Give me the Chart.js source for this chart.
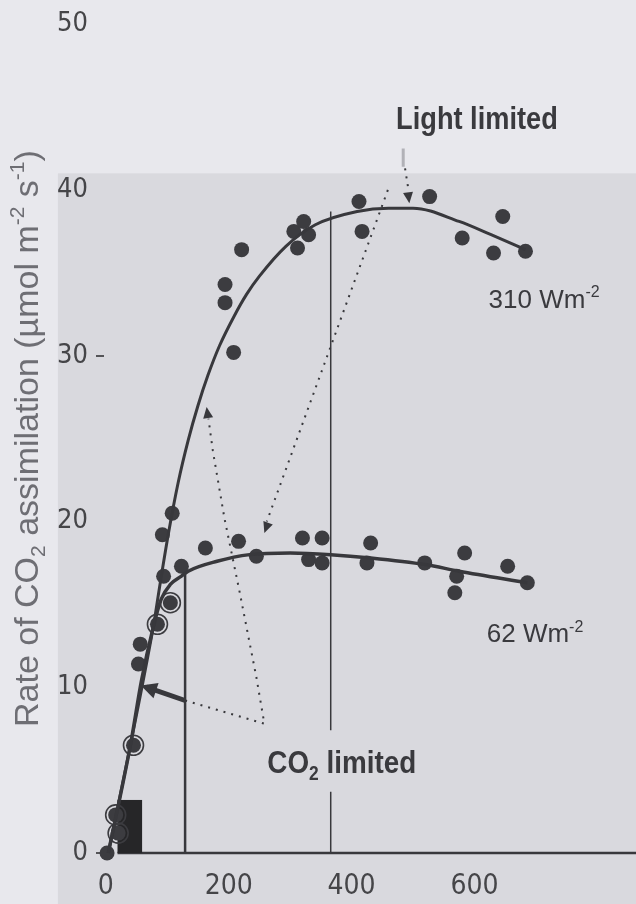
<!DOCTYPE html>
<html>
<head>
<meta charset="utf-8">
<script src="https://cdn.jsdelivr.net/npm/chart.js@4.4.1/dist/chart.umd.min.js"></script>
<style>
html, body { margin: 0; padding: 0; background: #e7e7ec; }
</style>
</head>
<body>
<canvas id="chart" width="636" height="904"></canvas>
<script>
// CO2 response curves of assimilation at two irradiances

const xTicks = [0, 200, 400, 600];
const yTicks = [0, 10, 20, 30, 40, 50];

// measured points at 310 W m-2
const co2_310  = [92, 108, 194, 194, 208, 221, 306, 312, 322, 330, 412, 417, 527, 580, 631, 646, 683];
const rate_310 = [19.2, 20.5, 34.3, 33.2, 30.2, 36.4, 37.5, 36.5, 38.1, 37.3, 39.3, 37.5, 39.6, 37.1, 36.2, 38.4, 36.3];

// measured points at 62 W m-2
const co2_62  = [123, 162, 216, 245, 320, 330, 352, 352, 425, 431, 519, 568, 571, 584, 654, 686];
const rate_62 = [17.3, 18.4, 18.8, 17.9, 19.0, 17.7, 19.0, 17.5, 17.5, 18.7, 17.5, 15.7, 16.7, 18.1, 17.3, 16.3];

// initial slope, shared by both
const co2_low  = [2, 16, 20, 45, 53, 56, 84, 94, 105];
const rate_low = [0, 2.3, 1.2, 6.5, 11.4, 12.6, 13.8, 16.7, 15.1];

// points drawn with a ring round them
const co2_ring  = [16, 20, 45, 84, 105];
const rate_ring = [2.3, 1.2, 6.5, 13.8, 15.1];

// fitted curves
const fit310_x = [4, 40, 77, 81, 86, 102, 118, 134, 150, 166, 185, 209, 229, 250, 293, 341, 409, 460, 500, 575, 627, 683];
const fit310_y = [0, 6.5, 13.6, 14.5, 15.7, 19.3, 22.4, 24.9, 27.0, 28.8, 30.6, 32.4, 33.7, 34.8, 36.6, 37.9, 38.7, 38.9, 38.9, 38.1, 37.3, 36.4];
const fit62_x = [4, 40, 58, 77, 90, 105, 123, 134, 181, 234, 300, 366, 431, 520, 575, 686];
const fit62_y = [0, 6.5, 10.4, 13.6, 15.3, 16.2, 16.7, 17.0, 17.6, 18.0, 18.1, 18.0, 17.8, 17.4, 17.0, 16.3];

const pairs = (xs, ys) => xs.map((v, i) => ({ x: v, y: ys[i] }));

const TICKFONT = "'DejaVu Sans Condensed', 'Liberation Sans', sans-serif";
const SANS = "'Liberation Sans', Arial, sans-serif";
const INK = '#38383c';

// text drawn as runs, so sub- and superscripts sit right; sx squeezes it
function drawRuns(ctx, x, y, parts, size, weight, align, sx) {
  const fontFor = p => weight + ' ' + (p[1] ? Math.round(size * 0.62) : size) + 'px ' + SANS;
  let w = 0;
  parts.forEach(p => { ctx.font = fontFor(p); w += ctx.measureText(p[0]).width; });
  ctx.save();
  ctx.translate(align === 'center' ? x - w * sx / 2 : x, y);
  ctx.scale(sx, 1);
  ctx.textAlign = 'left';
  ctx.textBaseline = 'alphabetic';
  let cx = 0;
  parts.forEach(p => {
    ctx.font = fontFor(p);
    const dy = p[1] === 'sub' ? size * 0.22 : p[1] === 'sup' ? -size * 0.42 : 0;
    ctx.fillText(p[0], cx, dy);
    cx += ctx.measureText(p[0]).width;
  });
  ctx.restore();
}

function arrowHead(ctx, x1, y1, x2, y2, len, wid) {
  const a = Math.atan2(y2 - y1, x2 - x1);
  ctx.beginPath();
  ctx.moveTo(x2, y2);
  ctx.lineTo(x2 - len * Math.cos(a) + wid * Math.sin(a), y2 - len * Math.sin(a) - wid * Math.cos(a));
  ctx.lineTo(x2 - len * Math.cos(a) - wid * Math.sin(a), y2 - len * Math.sin(a) + wid * Math.cos(a));
  ctx.closePath();
  ctx.fill();
}

const figure = {
  id: 'figure',
  beforeDraw(chart) {
    const { ctx, scales: { x, y } } = chart;
    ctx.save();
    ctx.fillStyle = '#e8e8ed';
    ctx.fillRect(0, 0, chart.width, chart.height);
    // darker panel behind the data
    const px = x.getPixelForValue(-78), py = y.getPixelForValue(41);
    ctx.fillStyle = '#d9d9de';
    ctx.fillRect(px, py, chart.width - px, chart.height - py);
    ctx.restore();
  },
  beforeDatasetsDraw(chart) {
    const { ctx, scales: { x, y } } = chart;
    const X = v => x.getPixelForValue(v), Y = v => y.getPixelForValue(v);
    ctx.save();
    ctx.strokeStyle = INK;
    ctx.fillStyle = INK;

    // x axis line
    ctx.lineWidth = 2.5;
    ctx.beginPath(); ctx.moveTo(X(19), Y(0)); ctx.lineTo(chart.width, Y(0)); ctx.stroke();

    // black block and box edge
    ctx.fillStyle = '#262628';
    ctx.fillRect(X(19), Y(3.2), X(59) - X(19), Y(0) - Y(3.2));
    ctx.fillStyle = INK;
    ctx.beginPath(); ctx.moveTo(X(129), Y(0)); ctx.lineTo(X(129), Y(17.0)); ctx.stroke();

    // thin vertical line at ambient CO2
    ctx.lineWidth = 1.5;
    ctx.beginPath();
    ctx.moveTo(X(366), Y(0)); ctx.lineTo(X(366), Y(3.7));
    ctx.moveTo(X(366), Y(7.4)); ctx.lineTo(X(366), Y(38.7));
    ctx.stroke();

    // solid arrow to the initial slope
    ctx.lineWidth = 5;
    ctx.beginPath(); ctx.moveTo(X(129), Y(9.2)); ctx.lineTo(X(66), Y(10.0)); ctx.stroke();
    arrowHead(ctx, X(129), Y(9.2), X(57), Y(10.1), 16, 8);

    // dotted arrows
    ctx.lineWidth = 2;
    ctx.setLineDash([2, 6]);
    ctx.beginPath();
    ctx.moveTo(X(129), Y(9.2)); ctx.lineTo(X(258), Y(7.8));
    ctx.lineTo(X(245), Y(10.6)); ctx.lineTo(X(218), Y(15.7));
    ctx.lineTo(X(193), Y(20.2)); ctx.lineTo(X(174), Y(24.3)); ctx.lineTo(X(167), Y(26.2));
    ctx.moveTo(X(487), Y(41.3)); ctx.lineTo(X(493), Y(39.9));
    ctx.moveTo(X(459), Y(40.0)); ctx.lineTo(X(262), Y(20.0));
    ctx.stroke();
    ctx.setLineDash([]);
    arrowHead(ctx, X(174), Y(24.3), X(164), Y(26.9), 11, 5);
    arrowHead(ctx, X(487), Y(41.3), X(494), Y(39.2), 11, 5);
    arrowHead(ctx, X(459), Y(40.0), X(258), Y(19.3), 11, 5);

    // faint mark under the label
    ctx.strokeStyle = 'rgba(140,140,146,0.6)';
    ctx.lineWidth = 3;
    ctx.beginPath(); ctx.moveTo(X(484), Y(42.5)); ctx.lineTo(X(484), Y(41.4)); ctx.stroke();
    ctx.restore();
  },
  afterDraw(chart) {
    const { ctx, chartArea, scales: { x, y } } = chart;
    const X = v => x.getPixelForValue(v), Y = v => y.getPixelForValue(v);
    ctx.save();
    ctx.fillStyle = '#3a3a3e';
    drawRuns(ctx, X(604), Y(43.7), [['Light limited']], 32, 'bold', 'center', 0.85);
    drawRuns(ctx, X(384), Y(4.8), [['CO'], ['2', 'sub'], [' limited']], 32, 'bold', 'center', 0.87);
    drawRuns(ctx, X(623), Y(32.9), [['310 Wm'], ['-2', 'sup']], 26, 'normal', 'left', 1);
    drawRuns(ctx, X(620), Y(12.7), [['62 Wm'], ['-2', 'sup']], 26, 'normal', 'left', 1);

    // y axis title
    ctx.fillStyle = '#6e6e74';
    ctx.translate(38, (chartArea.top + chartArea.bottom) / 2);
    ctx.rotate(-Math.PI / 2);
    drawRuns(ctx, 0, 0, [['Rate of CO'], ['2', 'sub'], [' assimilation (\u00b5mol m'], ['-2', 'sup'], [' s'], ['-1', 'sup'], [')']], 34, 'normal', 'center', 1);
    ctx.restore();
  }
};

const chart = new Chart(document.getElementById('chart'), {
  type: 'scatter',
  data: {
    datasets: [
      { data: pairs(fit310_x, fit310_y), showLine: true, pointRadius: 0, borderColor: INK, borderWidth: 3, cubicInterpolationMode: 'monotone', clip: false },
      { data: pairs(fit62_x, fit62_y), showLine: true, pointRadius: 0, borderColor: INK, borderWidth: 3.5, cubicInterpolationMode: 'monotone', clip: false },
      { data: pairs(co2_310, rate_310).concat(pairs(co2_62, rate_62), pairs(co2_low, rate_low)), pointRadius: 7.5, backgroundColor: '#3c3c40', borderWidth: 0, clip: false },
      { data: pairs(co2_ring, rate_ring), pointRadius: 10, backgroundColor: 'rgba(0,0,0,0)', borderColor: '#3c3c40', borderWidth: 1.6, clip: false }
    ]
  },
  options: {
    responsive: false,
    devicePixelRatio: 1,
    animation: false,
    layout: { padding: { top: 23, left: 0, right: 0, bottom: 0 } },
    plugins: { legend: { display: false }, tooltip: { enabled: false } },
    scales: {
      x: {
        type: 'linear', min: -3, max: 844,
        afterBuildTicks: s => { s.ticks = xTicks.map(v => ({ value: v })); },
        afterFit: s => { s.height = 51; },
        grid: { display: false, drawTicks: false },
        border: { display: false },
        ticks: { padding: 17, color: '#454548', font: { family: TICKFONT, size: 28 } }
      },
      y: {
        type: 'linear', min: 0, max: 50,
        afterBuildTicks: s => { s.ticks = yTicks.map(v => ({ value: v })); },
        afterFit: s => { s.width = 104; },
        grid: {
          drawOnChartArea: false, drawTicks: true, tickLength: 8, lineWidth: 2,
          color: c => (c.tick && (c.tick.value === 30 || c.tick.value === 0)) ? '#555558' : 'rgba(0,0,0,0)'
        },
        border: { display: false },
        ticks: { padding: 8, color: '#454548', font: { family: TICKFONT, size: 27 } }
      }
    }
  },
  plugins: [figure]
});
</script>
</body>
</html>
